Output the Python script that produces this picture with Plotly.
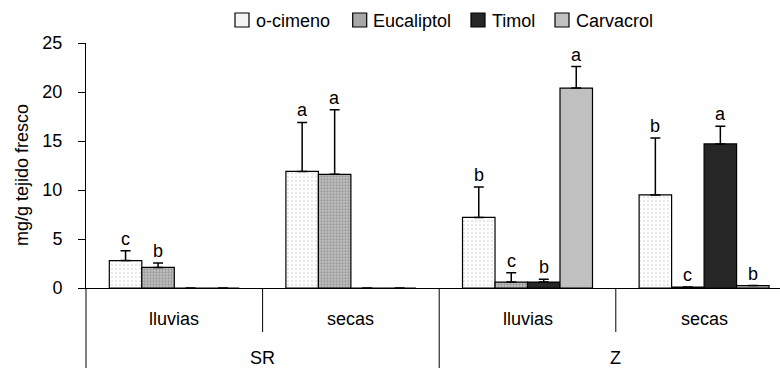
import plotly.graph_objects as go

# Categories
seasons = ["lluvias", "secas", "lluvias", "secas"]
sites = ["SR", "Z"]
compounds = ["o-cimeno", "Eucaliptol", "Timol", "Carvacrol"]

# Means (mg/g tejido fresco) and upper error (SD)
o_cimeno = [2.8, 11.9, 7.2, 9.5]
o_cimeno_err = [1.0, 5.0, 3.1, 5.8]
eucaliptol = [2.1, 11.6, 0.6, 0.1]
eucaliptol_err = [0.45, 6.6, 0.95, 0.0]
timol = [0.0, 0.0, 0.6, 14.7]
timol_err = [0.0, 0.0, 0.3, 1.8]
carvacrol = [0.0, 0.0, 20.4, 0.25]
carvacrol_err = [0.0, 0.0, 2.2, 0.0]

# Significance letters
o_cimeno_sig = ["c", "a", "b", "b"]
eucaliptol_sig = ["b", "a", "c", "c"]
timol_sig = ["", "", "b", "a"]
carvacrol_sig = ["", "", "a", "b"]

values = [o_cimeno, eucaliptol, timol, carvacrol]
errors = [o_cimeno_err, eucaliptol_err, timol_err, carvacrol_err]
letters = [o_cimeno_sig, eucaliptol_sig, timol_sig, carvacrol_sig]

FONT = "Liberation Sans, Arial, sans-serif"
FS = 18

W, H = 780, 368
ML, MR, MT, MB = 86, 0, 43, 80
PW, PH = W - ML - MR, H - MT - MB
CAT_PX = 176.6                      # width of one season slot in pixels
XMAX = PW / CAT_PX                  # axis runs off the right edge
BARGAP = 0.264
NB = len(compounds)
BW = (1 - BARGAP) / NB

styles = [
    dict(color="white", pattern=dict(shape=".", fgcolor="#a8a8a8", bgcolor="white",
                                     size=4, solidity=0.15)),
    dict(color="#a8a8a8", pattern=dict(shape=".", fgcolor="#6e6e6e", bgcolor="#c2c2c2",
                                       size=3, solidity=0.45)),
    dict(color="#262626"),
    dict(color="#c0c0c0"),
]
legend_fill = ["#f4f4f4", "#a8a8a8", "#262626", "#c0c0c0"]

xc = [i + 0.5 for i in range(len(seasons))]

fig = go.Figure()
for j, name in enumerate(compounds):
    fig.add_trace(go.Bar(
        x=xc, y=values[j], name=name,
        marker=dict(line=dict(color="black", width=1.2), **styles[j]),
        error_y=dict(type="data", symmetric=False, array=errors[j],
                     arrayminus=[0] * len(xc), color="black",
                     thickness=1.5, width=5),
        showlegend=False,
    ))

annotations = []
# significance letters above each bar + error
for j in range(NB):
    for i, lab in enumerate(letters[j]):
        if not lab:
            continue
        annotations.append(dict(
            x=xc[i] + (j - (NB - 1) / 2) * BW, y=values[j][i] + errors[j][i],
            xref="x", yref="y", text=lab, showarrow=False,
            xanchor="center", yanchor="bottom", yshift=0,
            font=dict(family=FONT, size=FS, color="black"),
        ))


def px_x(px):
    return (px - ML) / PW


def px_y(py):
    return (H - MB - py) / PH


shapes = []
# two-level category axis below the plot
for i, s in enumerate(seasons):
    annotations.append(dict(
        x=(i + 0.5) / XMAX, y=px_y(319), xref="paper", yref="paper", text=s,
        showarrow=False, xanchor="center", yanchor="middle",
        font=dict(family=FONT, size=FS, color="black")))
for k, s in enumerate(sites):
    annotations.append(dict(
        x=(2 * k + 1) / XMAX, y=px_y(358), xref="paper", yref="paper", text=s,
        showarrow=False, xanchor="center", yanchor="middle",
        font=dict(family=FONT, size=FS, color="black")))
for b in range(len(seasons) + 1):
    if b / XMAX > 1:
        continue
    bottom = px_y(368) if b % 2 == 0 else px_y(332)
    shapes.append(dict(type="line", xref="paper", yref="paper",
                       x0=b / XMAX, x1=b / XMAX, y0=0, y1=bottom,
                       line=dict(color="black", width=1)))

# y-axis title
annotations.append(dict(
    x=px_x(22), y=px_y(175), xref="paper", yref="paper",
    text="mg/g tejido fresco", textangle=-90, showarrow=False,
    xanchor="center", yanchor="middle",
    font=dict(family=FONT, size=FS, color="black")))

# legend row
box_left = [235, 352.7, 471, 555]
for j, name in enumerate(compounds):
    x0 = box_left[j]
    shapes.append(dict(type="rect", xref="paper", yref="paper",
                       x0=px_x(x0), x1=px_x(x0 + 14), y0=px_y(27), y1=px_y(13),
                       fillcolor=legend_fill[j], line=dict(color="black", width=1.2)))
    annotations.append(dict(
        x=px_x(x0 + 18.5), y=px_y(20.5), xref="paper", yref="paper", text=name,
        showarrow=False, xanchor="left", yanchor="middle",
        font=dict(family=FONT, size=FS, color="black")))

fig.update_layout(
    width=W, height=H, autosize=False,
    margin=dict(l=ML, r=MR, t=MT, b=MB, pad=0),
    paper_bgcolor="white", plot_bgcolor="white",
    barmode="group", bargap=BARGAP, bargroupgap=0,
    font=dict(family=FONT, size=FS, color="black"),
    xaxis=dict(range=[0, XMAX], showticklabels=False, ticks="", showgrid=False,
               zeroline=False, showline=True, linecolor="black", linewidth=1),
    yaxis=dict(range=[0, 25], dtick=5, ticks="outside", ticklen=7, tickwidth=1,
               tickcolor="black", showgrid=False, zeroline=False, showline=True,
               linecolor="black", linewidth=1, ticklabelstandoff=12,
               tickfont=dict(family=FONT, size=FS, color="black")),
    shapes=shapes, annotations=annotations,
)

fig.write_html("out.html")
